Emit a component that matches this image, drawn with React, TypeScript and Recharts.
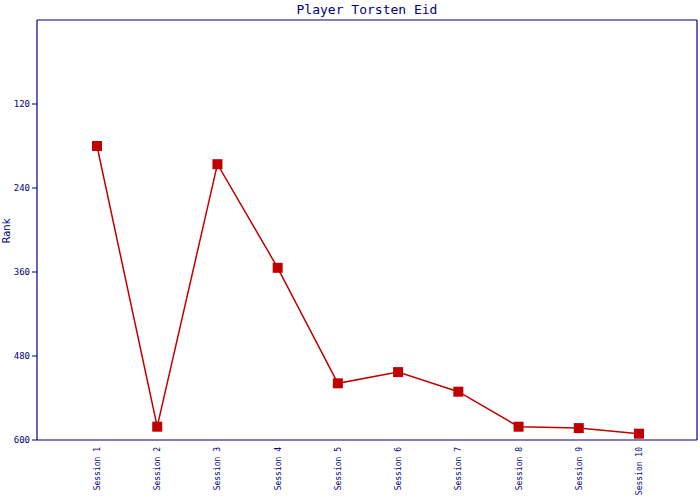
import { LineChart, Line, XAxis, YAxis, Label, CartesianGrid } from "recharts";

const sessions = [
  "Session 1", "Session 2", "Session 3", "Session 4", "Session 5",
  "Session 6", "Session 7", "Session 8", "Session 9", "Session 10",
];
const ranks = [180, 581, 206, 354, 519, 503, 531, 581, 583, 591];
const rankTicks = [120, 240, 360, 480, 600];

const NAVY = "#000080";
const RED = "#c00000";

const data = sessions.map((s, i) => ({ session: s, rank: ranks[i] }));

function SessionTick(props: any) {
  const { x, y, payload } = props;
  const ty = y - 1;
  return (
    <text
      x={x + 3}
      y={ty}
      transform={`rotate(-90 ${x + 3} ${ty})`}
      textAnchor="end"
      fontSize={8}
      fontFamily="DejaVu Sans Mono"
      fill={NAVY}
    >
      {payload.value}
    </text>
  );
}

function SquareDot(props: any) {
  const { cx, cy } = props;
  if (cx == null || cy == null) return null;
  return <rect x={cx - 5} y={cy - 5} width={10} height={10} fill={RED} />;
}

export default function App() {
  return (
    <div style={{ position: "absolute", left: 0, top: 0, width: 700, height: 500, background: "#fff" }}>
      <svg width={700} height={20} style={{ position: "absolute", left: 0, top: 0 }}>
        <text x={367} y={14} textAnchor="middle" fontSize={13} fontFamily="DejaVu Sans Mono" fill={NAVY}>
          Player Torsten Eid
        </text>
      </svg>
      <LineChart
        width={700}
        height={500}
        data={data}
        margin={{ top: 20, right: 3, bottom: 0, left: 0 }}
      >
        {/* frame: top and right edges of the plot box */}
        <CartesianGrid
          stroke={NAVY}
          strokeWidth={1.2}
          horizontalCoordinatesGenerator={({ offset }: any) => [offset.top]}
          verticalCoordinatesGenerator={({ offset }: any) => [offset.left + offset.width]}
        />
        <XAxis
          dataKey="session"
          type="category"
          padding={{ left: 60, right: 58 }}
          axisLine={{ stroke: NAVY, strokeWidth: 1.2 }}
          tickLine={false}
          tick={<SessionTick />}
          interval={0}
          height={60}
        />
        <YAxis
          dataKey="rank"
          type="number"
          domain={[0, 600]}
          reversed
          ticks={rankTicks}
          width={37}
          axisLine={{ stroke: NAVY, strokeWidth: 1.2 }}
          tickLine={{ stroke: NAVY }}
          tickSize={5}
          tick={{ fill: NAVY, fontSize: 9, fontFamily: "DejaVu Sans Mono" }}
        >
          <Label
            content={() => (
              <text
                x={10}
                y={231}
                transform="rotate(-90 10 231)"
                textAnchor="middle"
                fontSize={10}
                fontFamily="DejaVu Sans"
                fill={NAVY}
              >
                Rank
              </text>
            )}
          />
        </YAxis>
        <Line
          dataKey="rank"
          stroke={RED}
          strokeWidth={1.5}
          dot={<SquareDot />}
          activeDot={false}
          isAnimationActive={false}
        />
      </LineChart>
    </div>
  );
}
